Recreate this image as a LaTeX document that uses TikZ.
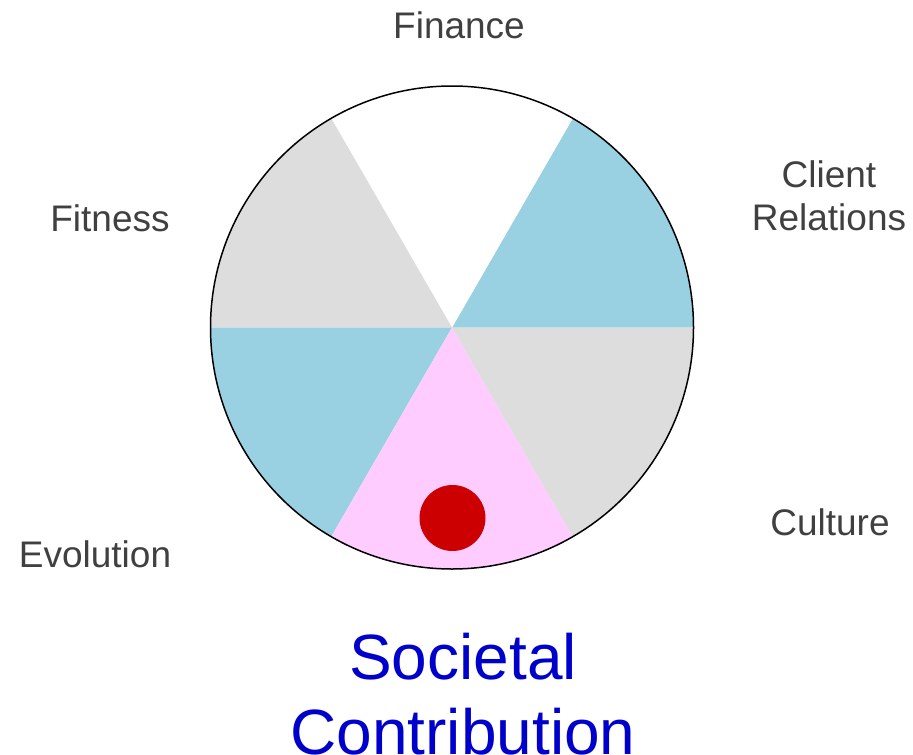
\documentclass[tikz,border=0pt]{standalone}
\usepackage{fontspec}
\setmainfont{Liberation Sans}
\definecolor{sgray}{HTML}{DDDDDD}
\definecolor{sblue}{HTML}{99D1E3}
\definecolor{spink}{HTML}{FFCCFF}
\definecolor{sred}{HTML}{CC0000}
\definecolor{lbl}{HTML}{404040}
\definecolor{hblue}{HTML}{0000CC}
\begin{document}
\begin{tikzpicture}[x=1pt,y=-1pt,
  lab/.style={text=lbl,font=\fontsize{37}{43}\selectfont,align=center,inner sep=0pt},
  hl/.style={text=hblue,font=\fontsize{64}{75}\selectfont,align=center,inner sep=0pt}]
\useasboundingbox (0,0) rectangle (913,755);
\coordinate (c) at (452,327.5);
\def\R{241.5}
\fill[sblue] (c) -- ++(0:\R) arc[start angle=0,end angle=-60,radius=\R] -- cycle;
\fill[white] (c) -- ++(-60:\R) arc[start angle=-60,end angle=-120,radius=\R] -- cycle;
\fill[sgray] (c) -- ++(-120:\R) arc[start angle=-120,end angle=-180,radius=\R] -- cycle;
\fill[sblue] (c) -- ++(180:\R) arc[start angle=180,end angle=120,radius=\R] -- cycle;
\fill[spink] (c) -- ++(120:\R) arc[start angle=120,end angle=60,radius=\R] -- cycle;
\fill[sgray] (c) -- ++(60:\R) arc[start angle=60,end angle=0,radius=\R] -- cycle;
\draw[black,line width=1.5pt] (c) circle[radius=\R];
\node[circle,fill=sred,minimum size=66pt,inner sep=0pt] (dot) at (452.5,518) {};
\node[lab,anchor=base] (fin) at (459,38) {Finance};
\node[lab,anchor=base] (fit) at (110,231) {Fitness};
\node[lab,anchor=base] (evo) at (95,567) {Evolution};
\node[lab,anchor=base] (cul) at (830,535) {Culture};
\node[lab,anchor=center] (cli) at (829,196) {Client\\Relations};
\node[hl,anchor=center] (soc) at (463,694) {Societal\\Contribution};
\end{tikzpicture}
\end{document}
